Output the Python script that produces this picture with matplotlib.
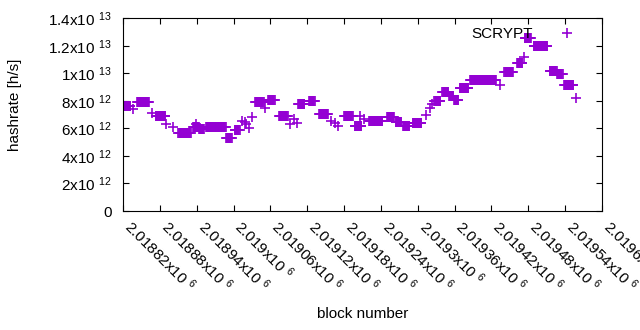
# Hashrate SCRYPT por bloque, estilo gnuplot
import numpy as np
import matplotlib
matplotlib.use("Agg")
import matplotlib.pyplot as plt

# Datos (bloques relativos a 2018820, hashrate en 1e12 h/s)
bloque_base = 2018820
seg_inicio = [0, 17, 23, 47, 53, 70, 81, 90, 114, 119, 124, 135, 168, 182, 194, 198, 201, 205,
              210, 215, 231, 236, 254, 272, 279, 283, 285, 303, 319, 338, 345, 350, 360, 377,
              386, 392, 401, 430, 444, 456, 472, 494, 500, 503, 507, 520, 531, 539, 548, 565,
              614, 621, 642, 653, 654, 669, 695, 707, 718, 737]
seg_fin = [12, 17, 42, 47, 69, 70, 81, 110, 123, 119, 132, 167, 177, 190, 194, 198, 201, 205,
           210, 229, 231, 247, 268, 272, 279, 283, 295, 312, 334, 338, 345, 350, 374, 388,
           386, 392, 422, 441, 453, 466, 486, 494, 500, 503, 517, 530, 538, 546, 562, 607,
           614, 635, 650, 653, 664, 691, 706, 716, 733, 737]
seg_valor = [7.65, 7.4, 7.93, 7.1, 6.92, 6.34, 6.1, 5.68, 6.1, 6.3, 5.93, 6.1, 5.3, 5.88, 6.56,
             6.45, 6.3, 6.0, 6.8, 7.93, 7.45, 8.06, 6.87, 6.3, 6.68, 6.39, 7.8, 8.0, 7.04, 6.56,
             6.39, 6.15, 6.92, 6.2, 6.92, 6.68, 6.56, 6.8, 6.5, 6.15, 6.39, 7.0, 7.48, 7.77,
             7.96, 8.64, 8.32, 8.08, 8.93, 9.53, 9.17, 10.1, 10.74, 11.2, 12.55, 12.0, 10.18,
             9.96, 9.17, 8.2]

etiquetas_x = ['2.01882', '2.01888', '2.01894', '2.019', '2.01906', '2.01912', '2.01918',
               '2.01924', '2.0193', '2.01936', '2.01942', '2.01948', '2.01954', '2.0196']
etiquetas_y = ['0', '2x10 $^{12}$', '4x10 $^{12}$', '6x10 $^{12}$', '8x10 $^{12}$',
               '1x10 $^{13}$', '1.2x10 $^{13}$', '1.4x10 $^{13}$']

# Un punto por bloque dentro de cada tramo
bx, by = [], []
for a, b, v in zip(seg_inicio, seg_fin, seg_valor):
    for k in range(a, b + 1):
        bx.append(bloque_base + k)
        by.append(v * 1e12)

plt.rcParams['font.family'] = 'Liberation Sans'
plt.rcParams['mathtext.fontset'] = 'custom'
plt.rcParams['mathtext.rm'] = 'Liberation Sans'
plt.rcParams['mathtext.it'] = 'Liberation Sans'

fig = plt.figure(figsize=(6.4, 3.3), dpi=100)
ax = fig.add_axes([0.1922, 0.3606, 0.7484, 0.5839])

ax.plot(bx, by, linestyle='none', marker='+', markersize=6.5, markeredgewidth=1.2,
        color='#9400D3', label='SCRYPT')

xt = [bloque_base + 60 * i for i in range(len(etiquetas_x))]
ax.set_xlim(xt[0], xt[-1])
ax.set_ylim(0, 1.4e13)
ax.set_xticks(xt)
ax.set_xticklabels([e + 'x10 $^{6}$' for e in etiquetas_x], rotation=-45, ha='left',
                   va='baseline', rotation_mode='anchor', fontsize=11)
ax.set_yticks([i * 2e12 for i in range(8)])
ax.set_yticklabels(etiquetas_y, fontsize=11)
ax.tick_params(direction='in', length=4, width=0.8, top=True, right=True)
ax.tick_params(axis='x', pad=12)
ax.tick_params(axis='y', pad=8)
for s in ax.spines.values():
    s.set_linewidth(0.8)

ax.set_xlabel('block number', fontsize=11)
ax.set_ylabel('hashrate [h/s]', fontsize=11)
ax.xaxis.set_label_coords(0.5, -0.5)
ax.yaxis.set_label_coords(-0.21, 0.55)

ax.legend(loc='upper right', bbox_to_anchor=(0.958, 0.955), markerfirst=False, frameon=False,
          borderpad=0, borderaxespad=0, handletextpad=1.2, handlelength=2, fontsize=11)

fig.savefig('out.png', dpi=100)
